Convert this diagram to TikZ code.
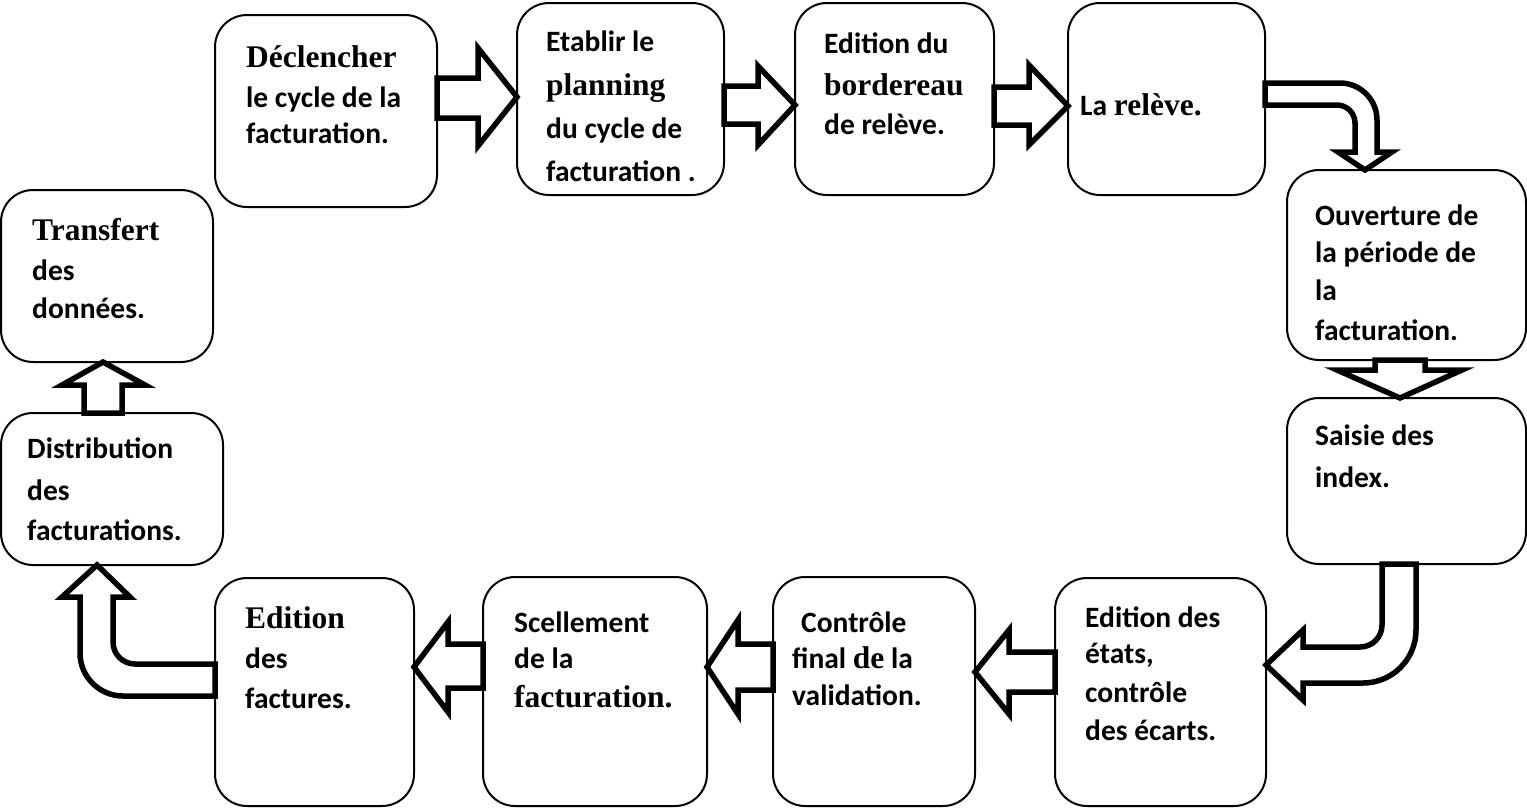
\documentclass[tikz,border=0pt]{standalone}
\usepackage{fontspec}
\setmainfont{Carlito}
\newfontfamily\tnr{Liberation Serif}
\usetikzlibrary{calc}

% serif words inside the sans labels
\newcommand\T[1]{{\tnr\fontsize{31.5}{38}\selectfont #1}}
% stacked label lines, baseline = first line
\newcommand\lines[1]{\begin{tabular}[t]{@{}l@{}}#1\end{tabular}}

\tikzset{
  box/.style={draw, line width=2pt, rounded corners=32pt, inner sep=0pt, outer sep=0pt},
  blk/.style={draw, fill=white, line width=5.5pt, line join=miter, miter limit=10},
  lbl/.style={anchor=base west, inner sep=0pt, font=\fontsize{29.5}{38}\selectfont\bfseries},
}

\begin{document}
\begin{tikzpicture}[x=1pt,y=-1pt]
\useasboundingbox (0,0) rectangle (1527,809);

% process steps
\node[box, minimum width=222pt, minimum height=192pt] (b1)  at (326,111) {};
\node[box, minimum width=207pt, minimum height=192pt] (b2)  at (620.5,99) {};
\node[box, minimum width=199pt, minimum height=192pt] (b3)  at (894.5,99) {};
\node[box, minimum width=197pt, minimum height=192pt] (b4)  at (1166.5,99) {};
\node[box, minimum width=239pt, minimum height=190pt] (b5)  at (1406.5,265) {};
\node[box, minimum width=239pt, minimum height=166pt] (b6)  at (1406.5,481) {};
\node[box, minimum width=211pt, minimum height=228pt] (b7)  at (1160.5,692) {};
\node[box, minimum width=202pt, minimum height=229pt] (b8)  at (874,691.5) {};
\node[box, minimum width=224pt, minimum height=229pt] (b9)  at (595,691.5) {};
\node[box, minimum width=199pt, minimum height=228pt] (b10) at (314.5,692) {};
\node[box, minimum width=222pt, minimum height=152pt] (b11) at (112,489) {};
\node[box, minimum width=212pt, minimum height=172pt] (b12) at (107,276) {};

% block arrows, top row (left to right)
\draw[blk] (b1.east |- 0,78) -- (478,78) -- (478,48) -- (b2.west |- 0,97)
  -- (478,146) -- (478,118) -- (b1.east |- 0,118) -- cycle;
\draw[blk] (b2.east |- 0,86) -- (758,86) -- (758,66) -- (b3.west |- 0,105)
  -- (758,145) -- (758,124) -- (b2.east |- 0,124) -- cycle;
\draw[blk] (b3.east |- 0,87) -- (1029,87) -- (1029,65) -- (b4.west |- 0,106)
  -- (1029,145) -- (1029,125) -- (b3.east |- 0,125) -- cycle;

% bent arrow into the right column
\draw[blk] (b4.east |- 0,83) -- (1340,83) .. controls (1360.4,83) and (1377,99.6) .. (1377,120)
  -- (1377,152) -- (1392,152) -- (1365,0 |- b5.north) -- (1338,152) -- (1355,152) -- (1355,123)
  .. controls (1355,113.1) and (1346.9,105) .. (1337,105) -- (b4.east |- 0,105) -- cycle;

% straight down arrow
\draw[blk] (1375,0 |- b5.south) -- (1375,370) -- (1337,370) -- (1400,0 |- b6.north)
  -- (1462,370) -- (1425,370) -- (1425,0 |- b5.south) -- cycle;

% bent arrow into the bottom row
\draw[blk] (1382,0 |- b6.south) -- (1416,0 |- b6.south) -- (1416,630)
  .. controls (1416,659.3) and (1392.3,683) .. (1363,683) -- (1303,683) -- (1303,700)
  -- (b7.east |- 0,665) -- (1303,630) -- (1303,647) -- (1360,647)
  .. controls (1372.2,647) and (1382,637.2) .. (1382,625) -- cycle;

% bottom row (right to left)
\draw[blk] (b7.west |- 0,652) -- (1009,652) -- (1009,630) -- (b8.east |- 0,672)
  -- (1009,714) -- (1009,692) -- (b7.west |- 0,692) -- cycle;
\draw[blk] (b8.west |- 0,644) -- (738,644) -- (738,620) -- (b9.east |- 0,667)
  -- (738,714) -- (738,690) -- (b8.west |- 0,690) -- cycle;
\draw[blk] (b9.west |- 0,644) -- (448,644) -- (448,622) -- (b10.east |- 0,667)
  -- (448,712) -- (448,688) -- (b9.west |- 0,688) -- cycle;

% bent arrow up into the left column
\draw[blk] (b10.west |- 0,664) -- (135,664) .. controls (122.8,664) and (113,654.2) .. (113,642)
  -- (113,597) -- (130,597) -- (97,0 |- b11.south) -- (62,597) -- (80,597) -- (80,653)
  .. controls (80,676.7) and (99.3,696) .. (123,696) -- (b10.west |- 0,696) -- cycle;

% straight up arrow
\draw[blk] (84,0 |- b11.north) -- (84,385) -- (62,385) -- (103,0 |- b12.south)
  -- (145,385) -- (122,385) -- (122,0 |- b11.north) -- cycle;

% labels
\node[lbl] (t1) at (246,67) {\lines{\T{Déclencher}\\[2pt] le cycle de la\\[-2pt] facturation.}};
\node[lbl] (t2) at (546,51) {\lines{Etablir le\\[6pt] \T{planning}\\[5pt] du cycle de\\[5pt] facturation .}};
\node[lbl] (t3) at (824,53) {\lines{Edition du\\[4pt] \T{bordereau}\\[1pt] de relève.}};
\node[lbl] (t4) at (1080,115) {La \T{relève.}};
\node[lbl] (t5) at (1315,225) {\lines{Ouverture de\\[-1pt] la période de\\ la\\[2pt] facturation.}};
\node[lbl] (t6) at (1315,445) {\lines{Saisie des\\[4pt] index.}};
\node[lbl] (t7) at (1085,627) {\lines{Edition des\\[-2pt] états,\\[1pt] contrôle\\ des écarts.}};
\node[lbl] (t8) at (792,632) {\lines{\hspace*{9pt}Contrôle\\[-2pt] final \T{de} la\\[-1pt] validation.}};
\node[lbl] (t9) at (514,632) {\lines{Scellement\\[-2pt] de la\\[1pt] \T{facturation.}}};
\node[lbl] (t10) at (245,628) {\lines{\T{Edition}\\[2pt] des\\[2pt] factures.}};
\node[lbl] (t11) at (27,458) {\lines{Distribution\\[4pt] des\\[2pt] facturations.}};
\node[lbl] (t12) at (32,240) {\lines{\T{Transfert}\\[2pt] des\\ données.}};
\end{tikzpicture}
\end{document}
